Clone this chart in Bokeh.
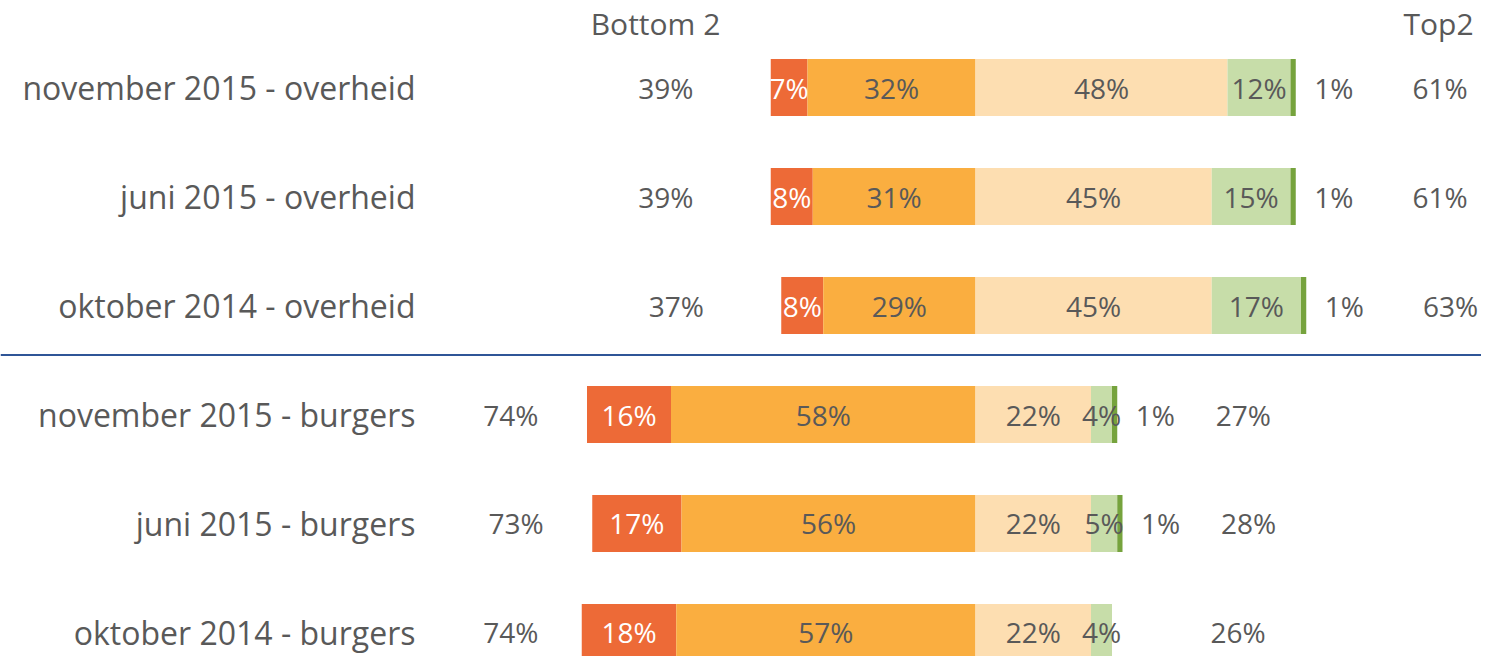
import numpy as np
from bokeh.plotting import figure
from bokeh.models import ColumnDataSource, Range1d, Span
from bokeh.core.properties import value
from bokeh.embed import file_html
from bokeh.resources import INLINE

# ---------------- data ----------------
categories = ["november 2015 - overheid", "juni 2015 - overheid", "oktober 2014 - overheid",
              "november 2015 - burgers", "juni 2015 - burgers", "oktober 2014 - burgers"]
groups = ["overheid", "overheid", "overheid", "burgers", "burgers", "burgers"]
very_negative = [7, 8, 8, 16, 17, 18]
negative = [32, 31, 29, 58, 56, 57]
positive = [48, 45, 45, 22, 22, 22]
very_positive = [12, 15, 17, 4, 5, 4]
extreme_positive = [1, 1, 1, 1, 1, 0]
bottom2 = [39, 39, 37, 74, 73, 74]
top2 = [61, 61, 63, 27, 28, 26]
header_bottom = "Bottom 2"
header_top = "Top2"

# ---------------- style / layout ----------------
FONT = value("Open Sans")
GREY = "#595959"
colors = ["#ED6A37", "#FAAE40", "#FDDEB1", "#C7DDA9", "#76A33D"]
pad_bottom = {"overheid": 20, "burgers": 14.5}
pad_top = {"overheid": 27.5, "burgers": 24}

W, H = 1481, 656
p = figure(width=W, height=H, x_range=Range1d(-185.714, 96.38), y_range=Range1d(5.2202, -0.7982),
           output_backend="svg", toolbar_location=None, x_axis_location=None, y_axis_location=None,
           min_border=0, min_border_left=0, min_border_right=0, min_border_top=0, min_border_bottom=0)
p.grid.visible = False
p.outline_line_color = None
p.background_fill_color = "white"

rows = np.arange(len(categories))
vn = np.array(very_negative, float)
ng = np.array(negative, float)
ps = np.array(positive, float)
vp = np.array(very_positive, float)
ep = np.array(extreme_positive, float)

lefts = [-(vn + ng), -ng, np.zeros(len(rows)), ps, ps + vp]
rights = [-ng, np.zeros(len(rows)), ps, ps + vp, ps + vp + ep]
vals = [vn, ng, ps, vp, ep]
BAR_H = 0.523
for l, r, c in zip(lefts, rights, colors):
    p.hbar(y=rows, left=l, right=r, height=BAR_H, fill_color=c, line_color=None)

# segment labels (first four segments)
for i, (l, r, v) in enumerate(zip(lefts[:4], rights[:4], vals[:4])):
    src = ColumnDataSource(dict(x=(l + r) / 2, y=rows, t=[f"{int(x)}%" for x in v]))
    p.text(x="x", y="y", text="t", source=src, text_font=FONT, text_font_size="28px",
           text_align="center", text_baseline="middle",
           text_color="white" if i == 0 else GREY)

# extreme positive labels outside bar end
mask = ep > 0
src = ColumnDataSource(dict(x=(rights[4] + 3.5)[mask], y=rows[mask],
                            t=[f"{int(x)}%" for x in ep[mask]]))
p.text(x="x", y="y", text="t", source=src, text_font=FONT, text_font_size="28px",
       text_align="left", text_baseline="middle", text_color=GREY)

# Bottom 2 / Top 2 totals
bx = [-(b + pad_bottom[g]) for b, g in zip(bottom2, groups)]
tx = [t + pad_top[g] for t, g in zip(top2, groups)]
p.text(x=bx, y=rows, text=[f"{b}%" for b in bottom2], text_font=FONT, text_font_size="28px",
       text_align="center", text_baseline="middle", text_color=GREY)
p.text(x=tx, y=rows, text=[f"{t}%" for t in top2], text_font=FONT, text_font_size="28px",
       text_align="center", text_baseline="middle", text_color=GREY)

# headers
p.text(x=[-60.95], y=[-0.587], text=[header_bottom], text_font=FONT, text_font_size="30px",
       text_align="center", text_baseline="middle", text_color=GREY)
p.text(x=[88.2], y=[-0.587], text=[header_top], text_font=FONT, text_font_size="30px",
       text_align="center", text_baseline="middle", text_color=GREY)

# category labels
p.text(x=[-106.67] * len(rows), y=rows, text=categories, text_font=FONT, text_font_size="32px",
       text_align="right", text_baseline="middle", text_color=GREY)

# separator between groups
p.add_layout(Span(location=2.455, dimension="width", line_color="#2F5597", line_width=2))

open("out.html", "w").write(file_html(p, INLINE))
